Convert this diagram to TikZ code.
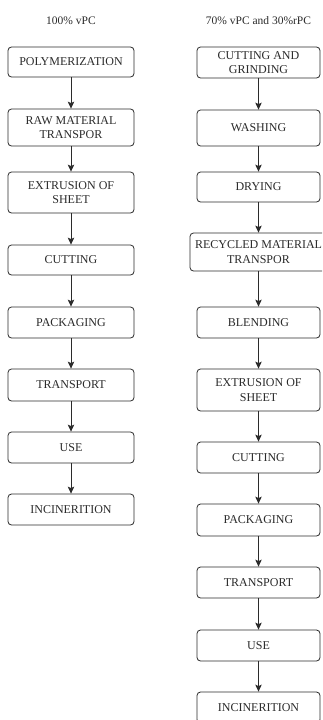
\documentclass[tikz,border=0pt]{standalone}
\usepackage{fontspec}
\setmainfont{Liberation Serif}
\usetikzlibrary{arrows.meta}
\definecolor{ink}{HTML}{2B2B2B}
\tikzset{
  x=1pt, y=-1pt,
  stage/.style={draw=ink, line width=0.8pt, rounded corners=3.5pt, text=ink,
    align=center, inner sep=0pt, font=\fontsize{12}{14.5}\selectfont},
  caption/.style={text=ink, inner sep=0pt, font=\fontsize{11.5}{14}\selectfont},
  flow/.style={draw=ink, line width=0.8pt, -{Stealth[length=7pt,width=6.5pt,inset=1.5pt]}}
}
\newcommand{\stagebox}[6]{% name, cx, cy, w, h, text
  \node[stage, minimum width=#4pt, minimum height=#5pt] (#1) at (#2,#3) {#6};}
\begin{document}
\begin{tikzpicture}
\useasboundingbox (0,0) rectangle (322,720);
\clip (0,0) rectangle (322,720);
\fill[white] (0,0) rectangle (322,720);

% ---- virgin polycarbonate route ----
\node[caption] (tl) at (71,21) {100\% vPC};
\stagebox{a1}{71}{62}{126}{30}{POLYMERIZATION}
\stagebox{a2}{71}{127.5}{126}{37}{RAW MATERIAL\\TRANSPOR}
\stagebox{a3}{71}{192.5}{126}{41}{EXTRUSION OF\\SHEET}
\stagebox{a4}{71}{260}{126}{30}{CUTTING}
\stagebox{a5}{71}{322.5}{126}{31}{PACKAGING}
\stagebox{a6}{71}{385}{126}{32}{TRANSPORT}
\stagebox{a7}{71}{447.5}{126}{31}{USE}
\stagebox{a8}{71}{509.5}{126}{31}{INCINERITION}
\foreach \i/\j in {a1/a2,a2/a3,a3/a4,a4/a5,a5/a6,a6/a7,a7/a8}
  \draw[flow] (\i.south) -- (\j.north);

% ---- blended route with recycled polycarbonate ----
\node[caption] (tr) at (258.5,21) {70\% vPC and 30\%rPC};
\stagebox{b1}{258.5}{62.5}{123}{31}{CUTTING AND\\GRINDING}
\stagebox{b2}{258.5}{128}{123}{36}{WASHING}
\stagebox{b3}{258.5}{187}{123}{30}{DRYING}
\stagebox{b4}{258.5}{252}{137}{38}{RECYCLED MATERIAL\\TRANSPOR}
\stagebox{b5}{258.5}{322.5}{123}{31}{BLENDING}
\stagebox{b6}{258.5}{390}{123}{42}{EXTRUSION OF\\SHEET}
\stagebox{b7}{258.5}{457.5}{123}{31}{CUTTING}
\stagebox{b8}{258.5}{520}{123}{32}{PACKAGING}
\stagebox{b9}{258.5}{582.5}{123}{31}{TRANSPORT}
\stagebox{b10}{258.5}{645.5}{123}{31}{USE}
\stagebox{b11}{258.5}{707.5}{123}{31}{INCINERITION}
\foreach \i/\j in {b1/b2,b2/b3,b3/b4,b4/b5,b5/b6,b6/b7,b7/b8,b8/b9,b9/b10,b10/b11}
  \draw[flow] (\i.south) -- (\j.north);
\end{tikzpicture}
\end{document}
